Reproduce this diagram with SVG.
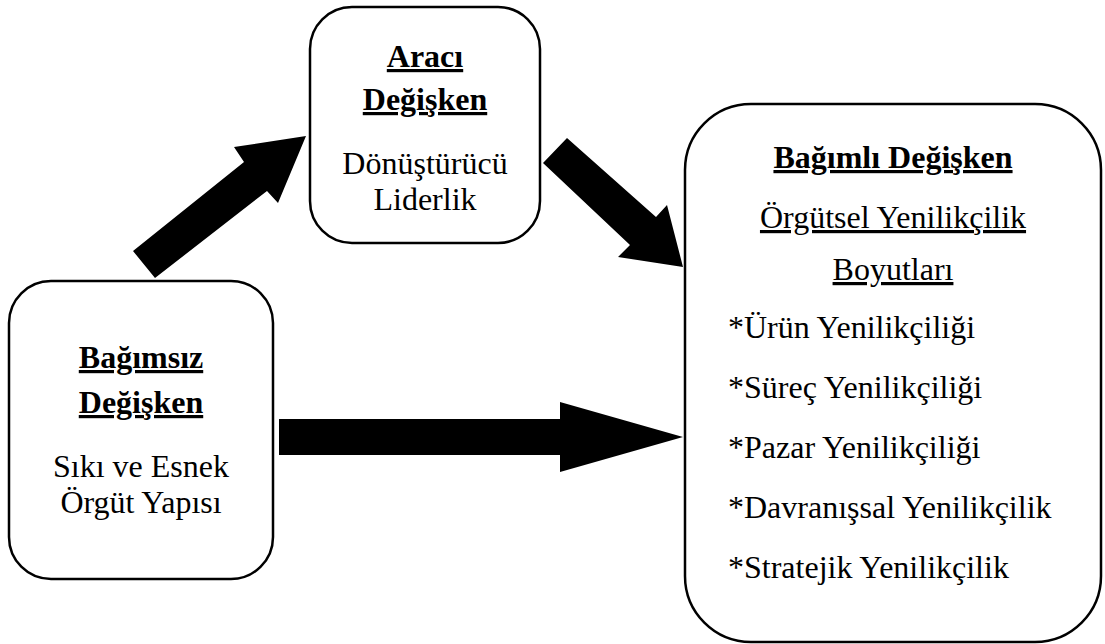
<svg xmlns="http://www.w3.org/2000/svg" width="1105" height="644" viewBox="0 0 1105 644">
<style>
.box{fill:#fff;stroke:#000;stroke-width:2.5}
.t{font-family:'Liberation Serif',Tinos,'Times New Roman','DejaVu Serif',serif;font-size:32px;fill:#000}
.c{text-anchor:middle}
.b{font-weight:bold;text-decoration:underline}
.u{text-decoration:underline}
.arr{fill:#000;stroke:none}
</style>
<rect width="1105" height="644" fill="#fff"/>
<g id="connectors">
<polygon class="arr" points="133,251 244,162 234,147 306,136 278,203 267,191 155,278"/>
<polygon class="arr" points="567,138 656,217 667,205 683,267 618,257 630,245 543,163"/>
<polygon class="arr" points="279,419 560,419 560,402 683,437 560,472 560,455 279,455"/>
</g>
<g id="node-araci" class="t" font-family="Liberation Serif, DejaVu Serif, serif">
<rect class="box" x="310" y="7" width="230" height="236" rx="42" ry="42"/>
<text class="c b" x="425" y="67">Aracı</text>
<text class="c b" x="425" y="110">Değişken</text>
<text class="c" x="425" y="174">Dönüştürücü</text>
<text class="c" x="425" y="210">Liderlik</text>
</g>
<g id="node-bagimsiz" class="t" font-family="Liberation Serif, DejaVu Serif, serif">
<rect class="box" x="9" y="281" width="264" height="298" rx="42" ry="42"/>
<text class="c b" x="141" y="368">Bağımsız</text>
<text class="c b" x="141" y="413">Değişken</text>
<text class="c" x="141" y="477">Sıkı ve Esnek</text>
<text class="c" x="141" y="513">Örgüt Yapısı</text>
</g>
<g id="node-bagimli" class="t" font-family="Liberation Serif, DejaVu Serif, serif">
<rect class="box" x="685" y="104" width="416" height="538" rx="66" ry="66"/>
<text class="c b" x="893" y="168">Bağımlı Değişken</text>
<text class="c u" x="893" y="228">Örgütsel Yenilikçilik</text>
<text class="c u" x="893" y="280">Boyutları</text>
<text x="728" y="338">*Ürün Yenilikçiliği</text>
<text x="728" y="398">*Süreç Yenilikçiliği</text>
<text x="728" y="458">*Pazar Yenilikçiliği</text>
<text x="728" y="518">*Davranışsal Yenilikçilik</text>
<text x="728" y="578">*Stratejik Yenilikçilik</text>
</g>
</svg>
